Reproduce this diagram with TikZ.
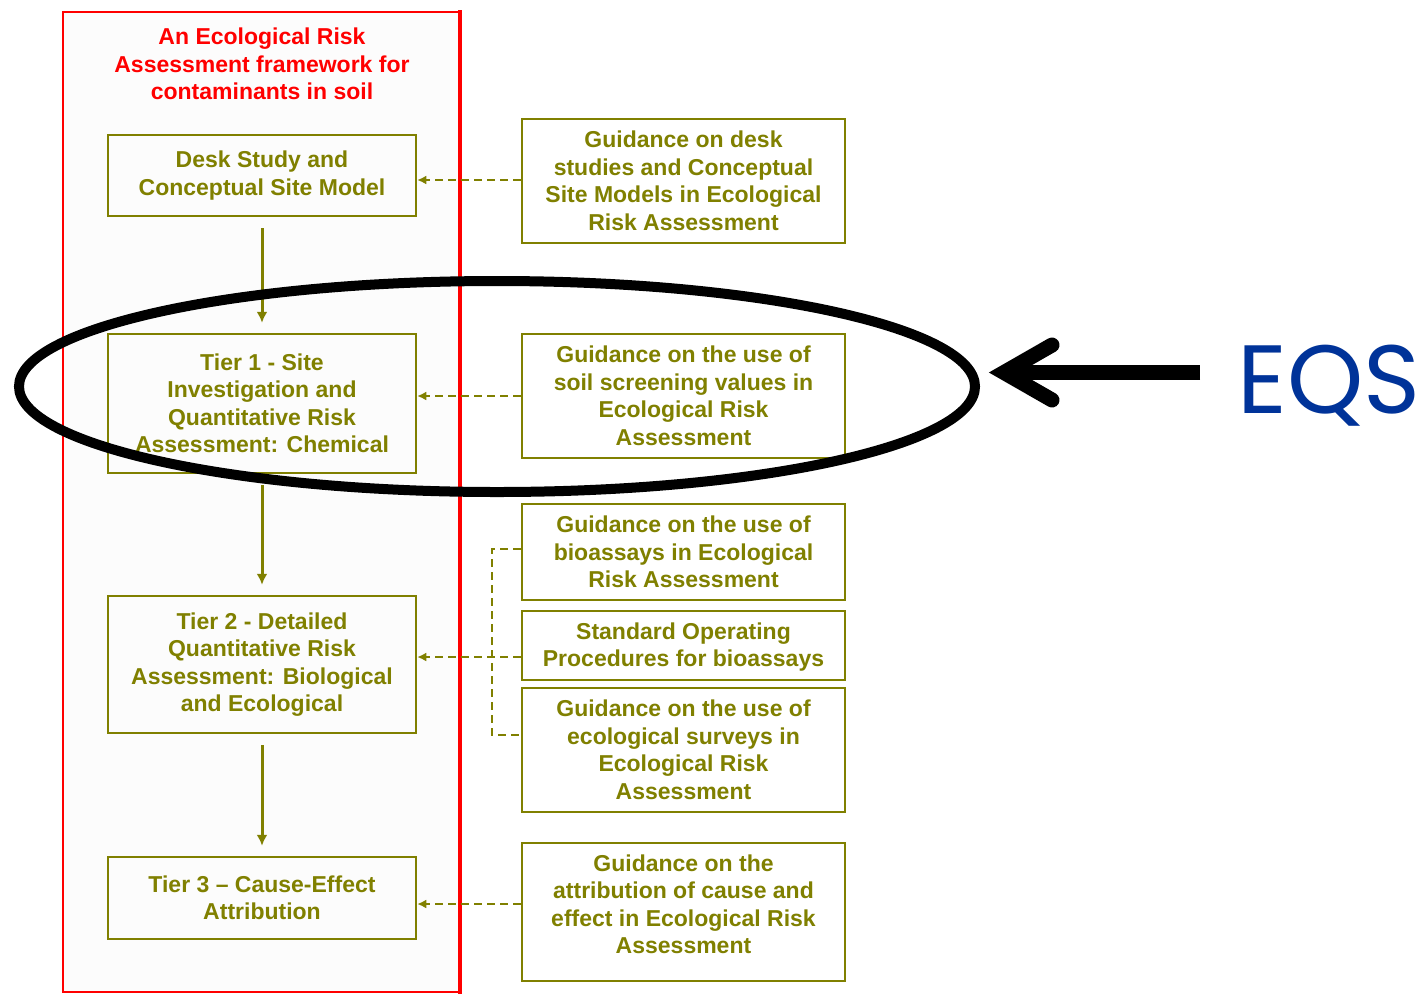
\documentclass[tikz,border=0pt]{standalone}
\usepackage{fontspec}
\setmainfont{Liberation Sans}
\newfontfamily\eqsfont{Poppins}
\usetikzlibrary{arrows.meta,shapes.geometric,calc}
\definecolor{olv}{RGB}{128,128,0}
\definecolor{eqsblue}{RGB}{0,51,153}
\begin{document}
\begin{tikzpicture}[x=1pt,y=-1pt,
  boxtext/.style={text=olv,font=\fontsize{23}{27.5}\selectfont\bfseries,align=center,inner sep=0pt},
  box/.style={boxtext,draw=olv,line width=2.5pt},
  lbox/.style={box,minimum width=308pt},
  rbox/.style={box,minimum width=323pt},
  flow/.style={draw=olv,line width=3pt,-{Latex[length=11pt,width=11pt]},shorten <=11pt,shorten >=10pt},
  guide/.style={draw=olv,line width=2.5pt,dash pattern=on 8pt off 5pt,-{Latex[length=9pt,width=9pt]}},
  bracket/.style={draw=olv,line width=2pt,dash pattern=on 8pt off 5pt},
  titletext/.style={text=red,font=\fontsize{23}{27.5}\selectfont\bfseries,align=center,inner sep=0pt},
  ring/.style={ellipse,draw=black,line width=10pt,inner sep=0pt},
  bigarrow/.style={draw=black,line width=15pt},
  eqstext/.style={text=eqsblue,font=\eqsfont\fontsize{97}{97}\selectfont,inner sep=0pt}]
\useasboundingbox (0,0) rectangle (1421,994);
\fill[white] (0,0) rectangle (1421,994);
% red frame
\fill[black!1] (63,12) rectangle (461,992);
\draw[red,line width=2pt] (461,12) -- (63,12) -- (63,992) -- (461,992);
\draw[red,line width=4pt] (460,10) -- (460,994);
\node[titletext] (title) at (262,64) {An Ecological Risk\\Assessment framework for\\contaminants in soil};
% left boxes
\node[lbox,minimum height=81pt] (desk) at (262,175.5) {Desk Study and\\Conceptual Site Model};
\node[lbox,minimum height=139pt] (tier1) at (262,403.5) {Tier 1 - Site\\Investigation and\\Quantitative Risk\\Assessment: Chemical};
\node[lbox,minimum height=137pt] (tier2) at (262,664.5) {Tier 2 - Detailed\\Quantitative Risk\\Assessment: Biological\\and Ecological};
\node[lbox,minimum height=82pt] (tier3) at (262,898) {Tier 3 -- Cause-Effect\\Attribution};
% right boxes
\node[rbox,minimum height=124pt] (g1) at (683.5,181) {Guidance on desk\\studies and Conceptual\\Site Models in Ecological\\Risk Assessment};
\node[rbox,minimum height=124pt] (g2) at (683.5,396) {Guidance on the use of\\soil screening values in\\Ecological Risk\\Assessment};
\node[rbox,minimum height=96pt] (g3) at (683.5,552) {Guidance on the use of\\bioassays in Ecological\\Risk Assessment};
\node[rbox,minimum height=69pt] (sop) at (683.5,645.5) {};
\node[boxtext] (soptext) at ($(sop)+(0,1.5)$) {Standard Operating\\Procedures for bioassays};
\node[rbox,minimum height=124pt] (g4) at (683.5,750) {Guidance on the use of\\ecological surveys in\\Ecological Risk\\Assessment};
\node[rbox,minimum height=138pt] (g5) at (683.5,912) {};
\node[boxtext] (g5text) at ($(g5)+(0,-7.5)$) {Guidance on the\\attribution of cause and\\effect in Ecological Risk\\Assessment};
% flow arrows
\draw[flow] (desk) -- (tier1);
\draw[flow] (tier1) -- (tier2);
\draw[flow] (tier2) -- (tier3);
% guidance arrows
\coordinate (a1) at ($(g1.west)+(0,-1)$);
\draw[guide] (a1) -- (a1 -| desk.east);
\draw[guide] (g2.west) -- (g2.west -| tier1.east);
\coordinate (a3) at ($(sop.west)+(0,11.5)$);
\draw[guide] (a3) -- (a3 -| tier2.east);
\coordinate (a5) at ($(g5.west)+(0,-8)$);
\draw[guide] (a5) -- (a5 -| tier3.east);
% bracket
\coordinate (bx) at (492,0);
\coordinate (b1) at ($(g3.west)+(0,-3)$);
\coordinate (b2) at ($(g4.west)+(0,-15)$);
\draw[bracket] (b1) -- (b1 -| bx) -- (b2 -| bx) -- (b2);
% ellipse highlight
\node[ring,minimum width=956pt,minimum height=211pt] (hl) at (497,386.5) {};
% EQS label and arrow
\node[eqstext,anchor=base] (eqs) at (1329,413) {EQS};
\coordinate (tail) at (1200,372.5);
\coordinate (vtx) at (1004,372.5);
\draw[bigarrow] (tail) -- ($(vtx)+(6,0)$);
\draw[bigarrow,line cap=round,line join=miter] ($(vtx)+(48,-27.5)$) -- (vtx) -- ($(vtx)+(48,27.5)$);
\end{tikzpicture}
\end{document}
